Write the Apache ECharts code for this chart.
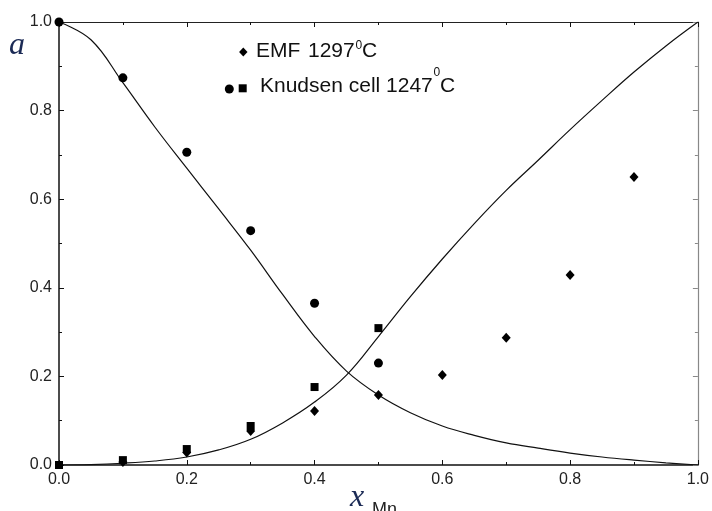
<!DOCTYPE html>
<html>
<head>
<meta charset="utf-8">
<script src="https://cdn.jsdelivr.net/npm/echarts@6/dist/echarts.min.js"></script>
<style>
html,body{margin:0;padding:0;background:#fff;}
#chart{width:712px;height:511px;}
</style>
</head>
<body>
<div id="chart"></div>
<script>
// Calculated curves
const xCurve   = [0, 0.05, 0.1, 0.15, 0.2, 0.25, 0.3, 0.35, 0.4, 0.45, 0.5, 0.55, 0.6, 0.65, 0.7, 0.75, 0.8, 0.85, 0.9, 0.95, 1.0];
const aFeCalc  = [1.0, 0.96, 0.863, 0.763, 0.670, 0.578, 0.485, 0.385, 0.290, 0.212, 0.158, 0.118, 0.088, 0.067, 0.050, 0.038, 0.027, 0.018, 0.011, 0.005, 0.0];
const aMnCalc  = [0.0, 0.001, 0.004, 0.009, 0.018, 0.034, 0.058, 0.095, 0.142, 0.203, 0.290, 0.380, 0.465, 0.545, 0.620, 0.688, 0.757, 0.823, 0.887, 0.946, 1.0];

// EMF 1297 °C (diamonds)
const xEMF     = [0.1, 0.2, 0.3, 0.4, 0.5, 0.6, 0.7, 0.8, 0.9];
const aMnEMF   = [0.007, 0.028, 0.077, 0.122, 0.158, 0.203, 0.287, 0.429, 0.650];

// Knudsen cell 1247 °C (circles = a_Fe, squares = a_Mn)
const xKnudsen   = [0, 0.1, 0.2, 0.3, 0.4, 0.5];
const aFeKnudsen = [1.0, 0.874, 0.706, 0.529, 0.365, 0.230];
const aMnKnudsen = [0.0, 0.011, 0.036, 0.088, 0.176, 0.309];

const tickLabels = ['0.0', '0.2', '0.4', '0.6', '0.8', '1.0'];

const zip = (xs, ys) => xs.map((x, i) => [x, ys[i]]);
const fmt = v => { const i = Math.round(v / 0.2); return Math.abs(v - i * 0.2) < 1e-6 ? tickLabels[i] : ''; };

const chart = echarts.init(document.getElementById('chart'));
const FONT = "'Liberation Sans', Arial, sans-serif";
const SERIF = "'Liberation Serif', 'Times New Roman', serif";

const baseAxis = {
  type: 'value', min: 0, max: 1, interval: 0.2,
  splitLine: { show: false },
  axisTick: { show: true, inside: true, length: 5, lineStyle: { color: '#111', width: 1 } },
  minorTick: { show: true, splitNumber: 2, length: 3, lineStyle: { color: '#111', width: 1 } },
  minorSplitLine: { show: false }
};

chart.setOption({
  backgroundColor: '#fff',
  animation: false,
  grid: { left: 59, right: 14, top: 22, bottom: 46 },
  xAxis: [
    Object.assign({}, baseAxis, {
      position: 'bottom',
      axisLine: { show: true, onZero: false, lineStyle: { color: '#111', width: 1.5 } },
      axisLabel: { show: true, formatter: fmt, color: '#222', fontSize: 16, fontFamily: FONT, margin: 7 }
    }),
    Object.assign({}, baseAxis, {
      position: 'top',
      axisLine: { show: true, onZero: false, lineStyle: { color: '#222', width: 1.2 } },
      axisLabel: { show: false }
    })
  ],
  yAxis: [
    Object.assign({}, baseAxis, {
      position: 'left',
      axisLine: { show: true, onZero: false, lineStyle: { color: '#111', width: 1.5 } },
      axisLabel: { show: true, formatter: fmt, color: '#222', fontSize: 16, fontFamily: FONT, margin: 7 }
    }),
    Object.assign({}, baseAxis, {
      position: 'right',
      axisLine: { show: true, onZero: false, lineStyle: { color: '#888', width: 1.2 } },
      axisTick: { show: true, inside: true, length: 5, lineStyle: { color: '#888', width: 1 } },
      minorTick: { show: true, splitNumber: 2, length: 3, lineStyle: { color: '#888', width: 1 } },
      axisLabel: { show: false }
    })
  ],
  series: [
    {
      name: 'aFe calc', type: 'line', data: zip(xCurve, aFeCalc),
      smooth: 0.4, showSymbol: false, symbol: 'none',
      lineStyle: { color: '#111', width: 1.2 }, z: 2
    },
    {
      name: 'aMn calc', type: 'line', data: zip(xCurve, aMnCalc),
      smooth: 0.4, showSymbol: false, symbol: 'none',
      lineStyle: { color: '#111', width: 1.2 }, z: 2
    },
    {
      name: 'EMF 1297', type: 'scatter', data: zip(xEMF, aMnEMF),
      symbol: 'diamond', symbolSize: [9, 10], itemStyle: { color: '#000', opacity: 1 }, z: 3
    },
    {
      name: 'Knudsen Fe', type: 'scatter', data: zip(xKnudsen, aFeKnudsen),
      symbol: 'circle', symbolSize: 9, itemStyle: { color: '#000', opacity: 1 }, z: 3
    },
    {
      name: 'Knudsen Mn', type: 'scatter', data: zip(xKnudsen, aMnKnudsen),
      symbol: 'rect', symbolSize: 8, itemStyle: { color: '#000', opacity: 1 }, z: 3
    }
  ],
  graphic: [
    // axis titles
    { type: 'text', left: 9, top: 30, style: { text: 'a', font: 'italic 32px ' + SERIF, fill: '#1b2a55' } },
    { type: 'text', x: 350, y: 498, style: { text: 'x', font: 'italic 32px ' + SERIF, fill: '#1b2a55', verticalAlign: 'middle' } },
    { type: 'text', x: 372, y: 510, style: { text: 'Mn', font: '18px ' + FONT, fill: '#222', verticalAlign: 'middle' } },
    // legend line 1
    { type: 'polygon', shape: { points: [[243.3, 47.5], [247.5, 52], [243.3, 56.5], [239.1, 52]] }, style: { fill: '#000' } },
    { type: 'text', x: 256, y: 51, style: { text: 'EMF', font: '21px ' + FONT, fill: '#111', verticalAlign: 'middle' } },
    { type: 'text', x: 308, y: 51, style: { text: '1297', font: '21px ' + FONT, fill: '#111', verticalAlign: 'middle' } },
    { type: 'text', x: 355.5, y: 46, style: { text: '0', font: '12px ' + FONT, fill: '#111', verticalAlign: 'middle' } },
    { type: 'text', x: 362, y: 51, style: { text: 'C', font: '21px ' + FONT, fill: '#111', verticalAlign: 'middle' } },
    // legend line 2
    { type: 'circle', shape: { cx: 229.3, cy: 89, r: 4.5 }, style: { fill: '#000' } },
    { type: 'rect', shape: { x: 238.7, y: 84.3, width: 8, height: 8 }, style: { fill: '#000' } },
    { type: 'text', x: 260, y: 86, style: { text: 'Knudsen cell 1247', font: '21px ' + FONT, fill: '#111', verticalAlign: 'middle' } },
    { type: 'text', x: 433.5, y: 72.5, style: { text: '0', font: '12px ' + FONT, fill: '#111', verticalAlign: 'middle' } },
    { type: 'text', x: 440, y: 86, style: { text: 'C', font: '21px ' + FONT, fill: '#111', verticalAlign: 'middle' } }
  ]
});
</script>
</body>
</html>
